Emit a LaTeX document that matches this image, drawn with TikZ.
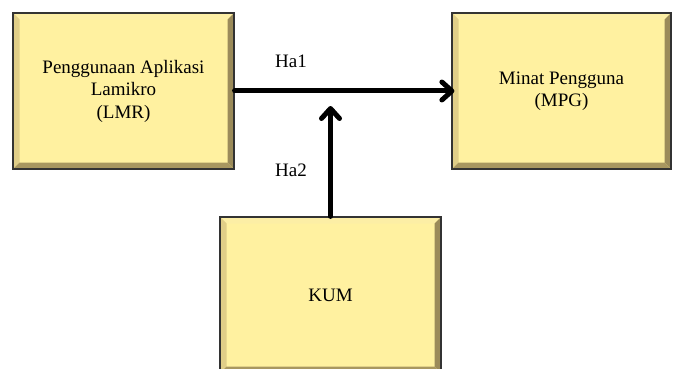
\documentclass[tikz,border=0pt]{standalone}
\usepackage{fontspec}
\setmainfont{Liberation Serif}
\usetikzlibrary{arrows.meta}

\definecolor{boxfill}{RGB}{255,241,160}
\definecolor{bevtop}{RGB}{252,238,165}
\definecolor{bevleft}{RGB}{224,206,136}
\definecolor{bevright}{RGB}{155,139,90}
\definecolor{bevbottom}{RGB}{168,151,96}

\begin{document}
\begin{tikzpicture}[x=1pt, y=-1pt,
        construct/.style={rectangle, draw=black!80, line width=1.2pt, fill=boxfill, inner sep=0pt,
            minimum width=221pt, minimum height=156pt, align=center, font=\fontsize{19}{22.5}\selectfont,
            path picture={
                \coordinate (nw) at (path picture bounding box.north west);
                \coordinate (ne) at (path picture bounding box.north east);
                \coordinate (sw) at (path picture bounding box.south west);
                \coordinate (se) at (path picture bounding box.south east);
                \fill[bevtop] (nw) -- (ne) -- ([shift={(-6.5pt,-6.5pt)}]ne) -- ([shift={(6.5pt,-6.5pt)}]nw) -- cycle;
                \fill[bevleft] (nw) -- ([shift={(6.5pt,-6.5pt)}]nw) -- ([shift={(6.5pt,6.5pt)}]sw) -- (sw) -- cycle;
                \fill[bevright] (ne) -- ([shift={(-6.5pt,-6.5pt)}]ne) -- ([shift={(-6.5pt,6.5pt)}]se) -- (se) -- cycle;
                \fill[bevbottom] (sw) -- ([shift={(6.5pt,6.5pt)}]sw) -- ([shift={(-6.5pt,6.5pt)}]se) -- (se) -- cycle;
            }},
        flow/.style={line width=5pt, line cap=round, -{Straight Barb[length=10pt, width=18pt, round]}},
        hyp_label/.style={font=\fontsize{19}{22.5}\selectfont}
    ]
        \useasboundingbox (0,0) rectangle (675,369);

        % Constructs
        \node[construct] (lmr) at (123.5, 91) {Penggunaan Aplikasi\\Lamikro\\(LMR)};
        \node[construct, minimum width=219pt] (mpg) at (561.5, 91) {Minat Pengguna\\(MPG)};
        \node[construct] (kum) at (330.5, 295) {KUM};

        % Free end of the moderating arrow
        \coordinate (ha2_tip) at (330.5, 106);

        % Connections
        \draw[flow, shorten >=-3pt] (lmr) -- (mpg);
        \draw[flow] (kum) -- (ha2_tip);

        % Hypothesis labels
        \node[hyp_label] (ha1) at (291, 61) {Ha1};
        \node[hyp_label] (ha2) at (291, 170) {Ha2};

    \end{tikzpicture}
\end{document}
